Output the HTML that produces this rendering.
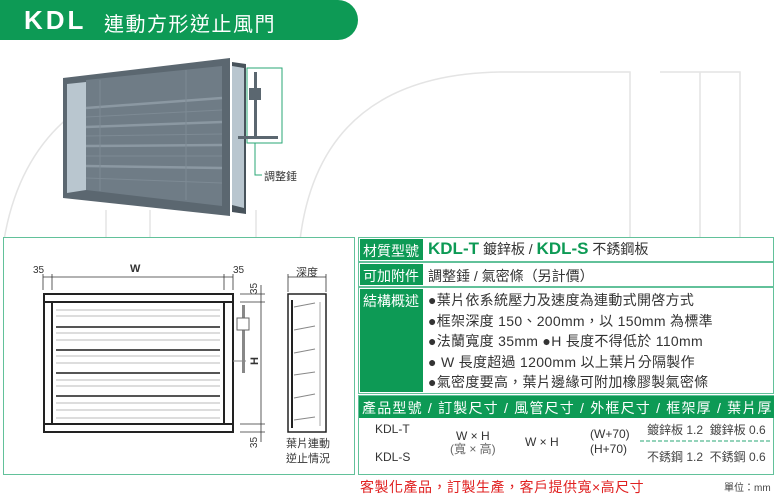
<!DOCTYPE html>
<html><head><meta charset="utf-8"><style>
body{margin:0;width:775px;height:500px;background:#fff;position:relative;overflow:hidden;font-family:"Liberation Sans","Noto Sans CJK TC",sans-serif;}
.a{position:absolute;white-space:nowrap;}
</style></head><body>
<svg width="775" height="500" style="position:absolute;left:0;top:0">
<g fill="none" stroke="#e4e4e4" stroke-width="1.5">
<path d="M4 240 Q30 85 200 68"/><path d="M106 240 V210"/><path d="M150 240 V210"/><path d="M256 240 V210"/>
<path d="M300 240 Q320 75 500 72"/><path d="M500 72 H630 V240"/><path d="M660 72 H740 V240"/><path d="M700 72 V240"/>
</g>
<path d="M0 0 H338 A20 20 0 0 1 338 40 H0 Z" fill="#0d9a55"/>
<!-- product -->
<polygon points="232,62 246,64 246,214 232,212" fill="#48535b"/>
<polygon points="63,78 230,58 230,216 63,198" fill="#5b6770"/>
<polygon points="67,84 86,82 86,190 67,193" fill="#b9c6cf"/>
<polygon points="86,80 222,66 222,206 86,190" fill="#6f7c86"/>
<g stroke="#8b98a2" stroke-width="2.5"><line x1="86" y1="108" x2="222" y2="98"/><line x1="86" y1="127" x2="222" y2="122"/><line x1="86" y1="146" x2="222" y2="145"/><line x1="86" y1="166" x2="222" y2="168"/></g>
<g stroke="#7d8a94" stroke-width="1"><line x1="86" y1="117" x2="222" y2="110"/><line x1="86" y1="136" x2="222" y2="134"/><line x1="86" y1="156" x2="222" y2="156"/><line x1="86" y1="178" x2="222" y2="183"/><line x1="100" y1="80" x2="100" y2="191"/><line x1="186" y1="70" x2="186" y2="200"/></g>
<polygon points="232,66 244,68 244,208 232,205" fill="#b9c6cf"/>
<rect x="247" y="68" width="35" height="75" fill="none" stroke="#2aa776"/>
<path d="M255 143 V175 H262" fill="none" stroke="#2aa776"/>
<rect x="254" y="72" width="3" height="64" fill="#5b6770"/><rect x="249" y="88" width="12" height="12" fill="#5b6770"/><rect x="238" y="136" width="40" height="3" fill="#5b6770"/>
<!-- left panel -->
<rect x="3.5" y="237.5" width="351" height="237" fill="#fff" stroke="#62c19a"/>
<g stroke="#333" stroke-width="0.8" fill="none">
<line x1="43" y1="277" x2="233" y2="277"/><line x1="43" y1="274" x2="43" y2="290"/><line x1="52" y1="274" x2="52" y2="290"/><line x1="224" y1="274" x2="224" y2="290"/><line x1="233" y1="274" x2="233" y2="290"/>
<line x1="288" y1="277" x2="326" y2="277"/><line x1="288" y1="274" x2="288" y2="292"/><line x1="326" y1="274" x2="326" y2="292"/>
<line x1="240" y1="294" x2="265" y2="294"/><line x1="240" y1="302" x2="265" y2="302"/><line x1="240" y1="424" x2="265" y2="424"/><line x1="240" y1="432" x2="265" y2="432"/><line x1="261" y1="285" x2="261" y2="442"/>
</g>
<rect x="44" y="294" width="189" height="138" fill="none" stroke="#222" stroke-width="2"/>
<line x1="44" y1="302" x2="233" y2="302" stroke="#222" stroke-width="2"/><line x1="44" y1="424" x2="233" y2="424" stroke="#222" stroke-width="2"/>
<line x1="52" y1="302" x2="52" y2="424" stroke="#222" stroke-width="2"/><line x1="224" y1="302" x2="224" y2="424" stroke="#222" stroke-width="2"/>
<g stroke="#bbb" stroke-width="1"><line x1="56" y1="310" x2="220" y2="310"/><line x1="56" y1="316" x2="220" y2="316"/><line x1="56" y1="333" x2="220" y2="333"/><line x1="56" y1="340" x2="220" y2="340"/><line x1="56" y1="356" x2="220" y2="356"/><line x1="56" y1="363" x2="220" y2="363"/><line x1="56" y1="380" x2="220" y2="380"/><line x1="56" y1="386" x2="220" y2="386"/><line x1="56" y1="403" x2="220" y2="403"/><line x1="56" y1="410" x2="220" y2="410"/><line x1="56" y1="418" x2="220" y2="418"/></g>
<g stroke="#555" stroke-width="2"><line x1="56" y1="327" x2="220" y2="327"/><line x1="56" y1="350" x2="220" y2="350"/><line x1="56" y1="373" x2="220" y2="373"/><line x1="56" y1="396" x2="220" y2="396"/></g>
<rect x="242" y="305" width="3" height="68" fill="#888"/><rect x="237" y="318" width="12" height="12" fill="#fff" stroke="#666"/><line x1="233" y1="361" x2="246" y2="361" stroke="#888"/>
<rect x="288" y="294" width="38" height="138" fill="none" stroke="#222" stroke-width="1.5"/>
<line x1="292" y1="300" x2="292" y2="428" stroke="#222" stroke-width="2"/><line x1="320" y1="302" x2="320" y2="426" stroke="#aaa"/>
<g stroke="#888" stroke-width="1"><line x1="294" y1="307" x2="315" y2="303"/><line x1="294" y1="330" x2="315" y2="326"/><line x1="294" y1="353" x2="315" y2="349"/><line x1="294" y1="375" x2="315" y2="372"/><line x1="294" y1="398" x2="315" y2="394"/><line x1="294" y1="420" x2="315" y2="417"/></g>
<!-- right table -->
<rect x="358.5" y="237.5" width="415" height="24" fill="#fff" stroke="#62c19a"/>
<rect x="358.5" y="262.5" width="415" height="24" fill="#fff" stroke="#62c19a"/>
<rect x="358.5" y="287.5" width="415" height="106" fill="#fff" stroke="#62c19a"/>
<rect x="360" y="239" width="63" height="21" fill="#0d9a55"/><rect x="360" y="264" width="63" height="21" fill="#0d9a55"/><rect x="360" y="289" width="63" height="103" fill="#0d9a55"/>
<rect x="358.5" y="395.5" width="415" height="79" fill="#fff" stroke="#62c19a"/>
<rect x="359" y="396" width="415" height="22" fill="#0d9a55"/>
<line x1="640" y1="441" x2="772" y2="441" stroke="#2aa776" stroke-dasharray="4,2"/>
</svg>
<div class="a" style="left:24px;top:5px;font-size:26px;font-weight:bold;color:#fff;letter-spacing:3px">KDL</div>
<div class="a" style="left:104px;top:8px;font-size:20px;color:#fff;letter-spacing:1.5px">連動方形逆止風門</div>
<div class="a" style="left:264px;top:168px;font-size:11px;color:#333">調整錘</div>
<div class="a" style="left:33px;top:265px;font-size:10px;color:#333">35</div>
<div class="a" style="left:130px;top:263px;font-size:11px;font-weight:bold;color:#333">W</div>
<div class="a" style="left:233px;top:265px;font-size:10px;color:#333">35</div>
<div class="a" style="left:296px;top:264px;font-size:11px;color:#333">深度</div>
<div class="a" style="left:249px;top:283px;font-size:10px;color:#333;transform:rotate(-90deg)">35</div>
<div class="a" style="left:251px;top:355px;font-size:11px;font-weight:bold;color:#333;transform:rotate(-90deg)">H</div>
<div class="a" style="left:249px;top:437px;font-size:10px;color:#333;transform:rotate(-90deg)">35</div>
<div class="a" style="left:286px;top:437px;font-size:11px;color:#333;line-height:15px">葉片連動<br>逆止情況</div>
<div class="a" style="left:363px;top:241px;font-size:14px;color:#fff">材質型號</div>
<div class="a" style="left:428px;top:239px;font-size:14px;color:#333"><b style="color:#0d9a55;font-size:17px">KDL-T</b> 鍍鋅板 / <b style="color:#0d9a55;font-size:17px">KDL-S</b> 不銹鋼板</div>
<div class="a" style="left:363px;top:266px;font-size:14px;color:#fff">可加附件</div>
<div class="a" style="left:428px;top:266px;font-size:14px;color:#333">調整錘 / 氣密條（另計價）</div>
<div class="a" style="left:363px;top:291px;font-size:14px;color:#fff">結構概述</div>
<div class="a" style="left:428px;top:290px;font-size:14px;color:#333;line-height:20.5px;letter-spacing:0.3px">●葉片依系統壓力及速度為連動式開啓方式<br>●框架深度 150、200mm，以 150mm 為標準<br>●法蘭寬度 35mm ●H 長度不得低於 110mm<br>● W 長度超過 1200mm 以上葉片分隔製作<br>●氣密度要高，葉片邊緣可附加橡膠製氣密條</div>
<div class="a" style="left:362px;top:398px;font-size:14px;color:#fff;letter-spacing:1.2px">產品型號 / 訂製尺寸 / 風管尺寸 / 外框尺寸 / 框架厚 / 葉片厚</div>
<div class="a" style="left:375px;top:422px;font-size:12px;color:#333">KDL-T</div>
<div class="a" style="left:375px;top:450px;font-size:12px;color:#333">KDL-S</div>
<div class="a" style="left:450px;top:430px;font-size:12px;color:#333;line-height:13px;text-align:center">W × H<br><span style="color:#666">(寬 × 高)</span></div>
<div class="a" style="left:525px;top:435px;font-size:12px;color:#333">W × H</div>
<div class="a" style="left:590px;top:427px;font-size:12px;color:#333;line-height:15px">(W+70)<br>(H+70)</div>
<div class="a" style="left:647px;top:421px;font-size:12px;color:#444">鍍鋅板 1.2 &nbsp;鍍鋅板 0.6</div>
<div class="a" style="left:647px;top:448px;font-size:12px;color:#444">不銹鋼 1.2 &nbsp;不銹鋼 0.6</div>
<div class="a" style="left:360px;top:477px;font-size:14px;color:#e02020;letter-spacing:0.5px">客製化產品，訂製生產，客戶提供寬×高尺寸</div>
<div class="a" style="left:724px;top:479px;font-size:10px;color:#444">單位：mm</div>
</body></html>
